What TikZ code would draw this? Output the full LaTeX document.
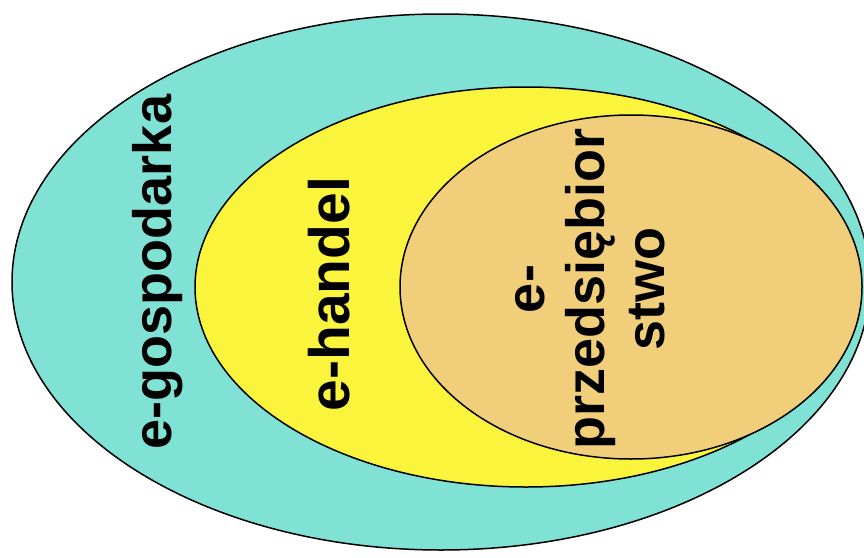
\documentclass[tikz,border=0pt]{standalone}
\usepackage{fontspec}
\setmainfont{Liberation Sans}
\definecolor{outerc}{RGB}{128,226,212}
\definecolor{midc}{RGB}{250,244,60}
\definecolor{innerc}{RGB}{241,206,122}
\tikzset{
  ring/.style={draw=black, line width=1.5pt},
  lbl/.style={rotate=90, align=center, inner sep=0pt, text=black,
    font=\bfseries\fontsize{54}{60}\selectfont}
}
\begin{document}
\begin{tikzpicture}[x=1pt,y=-1pt]
\useasboundingbox (0,0) rectangle (864,557);
\clip (0,0) rectangle (864,557);
\fill[white] (0,0) rectangle (864,557);
\draw[ring, fill=outerc] (441,282) ellipse [x radius=429, y radius=268];
\draw[ring, fill=midc] (526,287) ellipse [x radius=331, y radius=200];
\draw[ring, fill=innerc] (631,287) ellipse [x radius=231, y radius=172];
\node[lbl] (gosp) at (158,272) {e-gospodarka};
\node[lbl, font=\bfseries\fontsize{57}{60}\selectfont] (handel) at (329,294) {e-handel};
\node[lbl] (przed) at (590,289) {e-\\przedsiębior\\stwo};
\end{tikzpicture}
\end{document}
